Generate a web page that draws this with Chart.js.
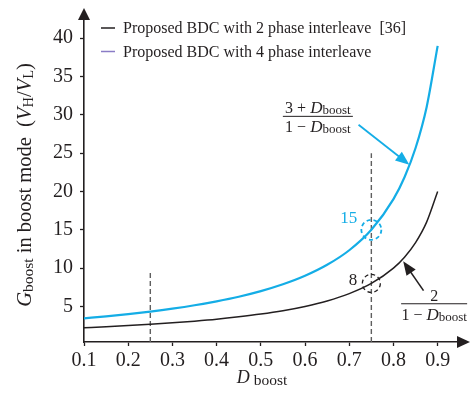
<!DOCTYPE html>
<html>
<head>
<meta charset="utf-8">
<script src="https://cdn.jsdelivr.net/npm/chart.js@4.4.1/dist/chart.umd.min.js"></script>
<style>
  html, body { margin: 0; padding: 0; background: #fff; }
  canvas { display: block; }
</style>
</head>
<body>
<canvas id="gainChart" width="472" height="402"></canvas>
<script>
// Duty ratio samples and boost-mode gains for both converters
const dutyRatio = [0.1, 0.15, 0.2, 0.25, 0.3, 0.35, 0.4, 0.45, 0.5, 0.55, 0.6, 0.65, 0.7, 0.75, 0.8, 0.825, 0.85, 0.875, 0.9];
const gain2Phase = [2.22, 2.35, 2.5, 2.67, 2.86, 3.08, 3.33, 3.64, 4.0, 4.44, 5.0, 5.71, 6.67, 8.0, 10.0, 11.43, 13.33, 16.0, 20.0];
const gain4Phase = [3.44, 3.71, 4.0, 4.33, 4.71, 5.15, 5.67, 6.27, 7.0, 7.89, 9.0, 10.43, 12.33, 15.0, 19.0, 21.86, 25.67, 31.0, 39.0];

const xTickLabels = [0.1, 0.2, 0.3, 0.4, 0.5, 0.6, 0.7, 0.8, 0.9];
const yTickLabels = [5, 10, 15, 20, 25, 30, 35, 40];

const legendLabels = ["Proposed BDC with 2 phase interleave  [36]", "Proposed BDC with 4 phase interleave"];

// Reference guides: dashed verticals [D, top gain] and marked operating points
const guideLines = [[0.25, 9.5], [0.75, 25]];
const markedPoints = [{ d: 0.75, g: 15, label: "15" }, { d: 0.75, g: 8, label: "8" }];

const INK = "#231f20";
const CYAN = "#14ade6";
const LEGEND_PURPLE = "#8a7cc6";
const SERIF = "'Liberation Serif', 'Times New Roman', serif";

function toPoints(ys) {
  return dutyRatio.map((d, i) => ({ x: d, y: ys[i] }));
}

function fontOf(size, italic) {
  return (italic ? "italic " : "") + size + "px " + SERIF;
}

// Draws a run of text parts [text, size, italic, dy] starting at x (or centred)
function drawRich(ctx, parts, x, y, center) {
  let w = 0;
  parts.forEach(p => { ctx.font = fontOf(p[1], p[2]); w += ctx.measureText(p[0]).width; });
  let cx = center ? x - w / 2 : x;
  parts.forEach(p => {
    ctx.font = fontOf(p[1], p[2]);
    ctx.fillText(p[0], cx, y + (p[3] || 0));
    cx += ctx.measureText(p[0]).width;
  });
  return w;
}

function drawFraction(ctx, num, den, cx, ly, lineW) {
  ctx.save();
  ctx.fillStyle = INK;
  ctx.textBaseline = "alphabetic";
  drawRich(ctx, num, cx, ly - 3, true);
  drawRich(ctx, den, cx, ly + 16, true);
  ctx.strokeStyle = INK;
  ctx.lineWidth = 1;
  ctx.beginPath();
  ctx.moveTo(cx - lineW / 2, ly);
  ctx.lineTo(cx + lineW / 2, ly);
  ctx.stroke();
  ctx.restore();
}

function drawArrow(ctx, x0, y0, x1, y1, color, width, head) {
  const ang = Math.atan2(y1 - y0, x1 - x0);
  ctx.save();
  ctx.strokeStyle = color;
  ctx.fillStyle = color;
  ctx.lineWidth = width;
  ctx.beginPath();
  ctx.moveTo(x0, y0);
  ctx.lineTo(x1 - Math.cos(ang) * head * 0.8, y1 - Math.sin(ang) * head * 0.8);
  ctx.stroke();
  ctx.beginPath();
  ctx.moveTo(x1, y1);
  ctx.lineTo(x1 - head * Math.cos(ang - 0.38), y1 - head * Math.sin(ang - 0.38));
  ctx.lineTo(x1 - head * Math.cos(ang + 0.38), y1 - head * Math.sin(ang + 0.38));
  ctx.closePath();
  ctx.fill();
  ctx.restore();
}

const guidePlugin = {
  id: "guides",
  beforeDatasetsDraw(chart) {
    const { ctx, scales: { x, y }, chartArea } = chart;
    ctx.save();
    ctx.strokeStyle = "#5f5f5f";
    ctx.lineWidth = 1.4;
    ctx.setLineDash([5, 3]);
    guideLines.forEach(([d, top]) => {
      ctx.beginPath();
      ctx.moveTo(x.getPixelForValue(d), chartArea.bottom);
      ctx.lineTo(x.getPixelForValue(d), y.getPixelForValue(top));
      ctx.stroke();
    });
    ctx.restore();
  },
  afterDatasetsDraw(chart) {
    const { ctx, scales: { x, y } } = chart;

    // dashed circles round the marked points
    markedPoints.forEach((p, i) => {
      const px = x.getPixelForValue(p.d);
      const py = y.getPixelForValue(p.g);
      ctx.save();
      ctx.strokeStyle = i === 0 ? CYAN : INK;
      ctx.lineWidth = i === 0 ? 1.8 : 1.3;
      ctx.setLineDash([4, 3]);
      ctx.beginPath();
      ctx.arc(px, py, i === 0 ? 10 : 9, 0, Math.PI * 2);
      ctx.stroke();
      ctx.restore();
      ctx.save();
      ctx.fillStyle = i === 0 ? CYAN : INK;
      ctx.font = fontOf(17, false);
      ctx.textAlign = "right";
      ctx.textBaseline = "middle";
      ctx.fillText(p.label, px - 14, py - (i === 0 ? 11 : 3));
      ctx.restore();
    });

    // formula callouts
    drawFraction(ctx,
      [["3 + ", 16, false], ["D", 17, true], ["boost", 13, false, 1]],
      [["1 \u2212 ", 16, false], ["D", 17, true], ["boost", 13, false, 1]],
      x.getPixelForValue(0.629), y.getPixelForValue(29.8), 70);
    drawArrow(ctx, x.getPixelForValue(0.721), y.getPixelForValue(28.7),
      x.getPixelForValue(0.836), y.getPixelForValue(23.5), CYAN, 1.8, 15);

    drawFraction(ctx,
      [["2", 16, false]],
      [["1 \u2212 ", 16, false], ["D", 17, true], ["boost", 13, false, 1]],
      x.getPixelForValue(0.892), y.getPixelForValue(5.35), 66);
    drawArrow(ctx, x.getPixelForValue(0.868), y.getPixelForValue(7.06),
      x.getPixelForValue(0.822), y.getPixelForValue(10.9), INK, 1.6, 15);
  },
  afterDraw(chart) {
    const { ctx, chartArea } = chart;
    ctx.save();
    ctx.fillStyle = INK;
    // axis arrow heads
    ctx.beginPath();
    ctx.moveTo(chartArea.left, chartArea.top - 11);
    ctx.lineTo(chartArea.left - 6, chartArea.top + 1);
    ctx.lineTo(chartArea.left + 6, chartArea.top + 1);
    ctx.closePath();
    ctx.fill();
    ctx.beginPath();
    ctx.moveTo(chartArea.right + 12, chartArea.bottom);
    ctx.lineTo(chartArea.right - 1, chartArea.bottom - 6);
    ctx.lineTo(chartArea.right - 1, chartArea.bottom + 6);
    ctx.closePath();
    ctx.fill();

    // x axis title
    ctx.textBaseline = "alphabetic";
    drawRich(ctx, [["D", 18, true], [" boost", 15.5, false, 1.5]], 262, 383, true);

    // y axis title, rotated
    ctx.save();
    ctx.translate(31, 185);
    ctx.rotate(-Math.PI / 2);
    drawRich(ctx, [
      ["G", 20.5, true], ["boost", 15.5, false, 2], [" in boost mode  (", 20.5, false],
      ["V", 20.5, true], ["H", 14.5, false, 2], ["/", 20.5, false],
      ["V", 20.5, true], ["L", 14.5, false, 2], [")", 20.5, false]
    ], 0, 0, true);
    ctx.restore();

    // legend
    const legendColors = [INK, LEGEND_PURPLE];
    legendLabels.forEach((t, i) => {
      const ly = 28 + i * 23.5;
      ctx.strokeStyle = legendColors[i];
      ctx.lineWidth = 1.5;
      ctx.beginPath();
      ctx.moveTo(101, ly);
      ctx.lineTo(115, ly);
      ctx.stroke();
      ctx.fillStyle = INK;
      ctx.font = fontOf(16, false);
      ctx.textBaseline = "middle";
      ctx.fillText(t, 123, ly + 1);
    });
    ctx.restore();
  }
};

new Chart(document.getElementById("gainChart"), {
  type: "line",
  data: {
    datasets: [
      {
        label: legendLabels[0],
        data: toPoints(gain2Phase),
        borderColor: INK,
        borderWidth: 1.5,
        pointRadius: 0,
        cubicInterpolationMode: "monotone",
        fill: false
      },
      {
        label: legendLabels[1],
        data: toPoints(gain4Phase),
        borderColor: CYAN,
        borderWidth: 2.2,
        pointRadius: 0,
        cubicInterpolationMode: "monotone",
        fill: false
      }
    ]
  },
  options: {
    responsive: false,
    animation: false,
    devicePixelRatio: 1,
    layout: { padding: { left: 0, top: 15, right: 14, bottom: 0 } },
    plugins: { legend: { display: false }, tooltip: { enabled: false } },
    scales: {
      x: {
        type: "linear",
        min: 0.1,
        max: 0.946,
        afterFit: s => { s.height = 60; },
        afterBuildTicks: s => { s.ticks = xTickLabels.map(v => ({ value: v })); },
        ticks: {
          color: INK,
          font: { family: SERIF, size: 20 },
          padding: 3,
          maxRotation: 0,
          callback: v => v.toFixed(1)
        },
        grid: { drawOnChartArea: false, drawTicks: true, tickLength: 4, color: INK, tickWidth: 1.3 },
        border: { display: true, color: INK, width: 1.6 }
      },
      y: {
        min: 0.36,
        max: 42.5,
        afterFit: s => { s.width = 84; },
        afterBuildTicks: s => { s.ticks = yTickLabels.map(v => ({ value: v })); },
        ticks: {
          color: INK,
          font: { family: SERIF, size: 20 },
          padding: 7
        },
        grid: { drawOnChartArea: false, drawTicks: true, tickLength: 4, color: INK, tickWidth: 1.3 },
        border: { display: true, color: INK, width: 1.6 }
      }
    }
  },
  plugins: [guidePlugin]
});
</script>
</body>
</html>
